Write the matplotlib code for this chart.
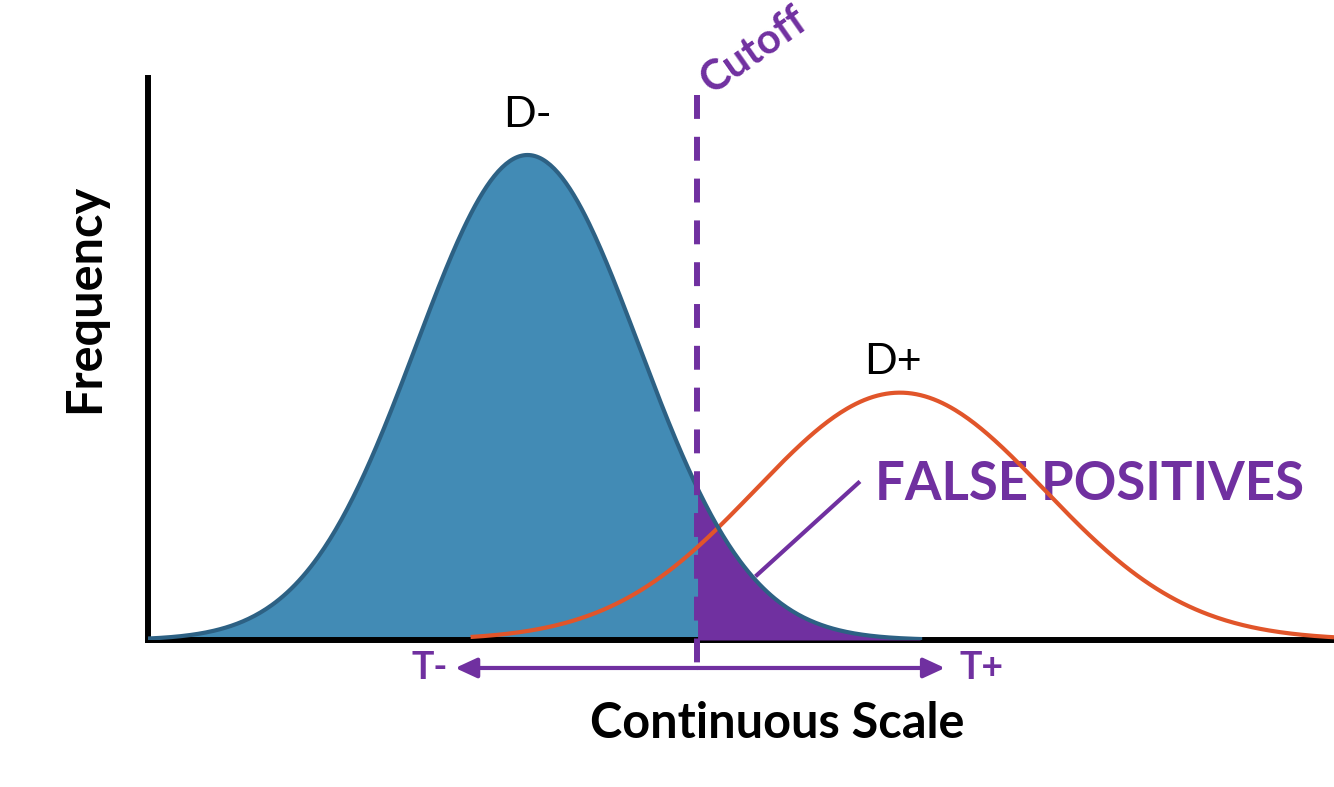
import numpy as np
import matplotlib
matplotlib.use("Agg")
from matplotlib import pyplot as plt

plt.rcParams["font.family"] = ["Lato", "DejaVu Sans"]

# two populations on the continuous scale (mean, sd, peak height)
groups = ["D-", "D+"]
means = [3.20, 6.34]
sds = [0.94, 1.22]
peaks = [1.00, 0.51]
spans = [(0.0, 6.51), (2.72, 10.0)]
cutoff = 4.63
arrow_ends = [2.59, 6.72]

PURPLE = "#7030A0"
BLUE_FILL = "#428BB5"
BLUE_EDGE = "#2D6184"
ORANGE = "#E1552A"


def curve(i):
    x = np.linspace(*spans[i], 400)
    y = peaks[i] * np.exp(-0.5 * ((x - means[i]) / sds[i]) ** 2)
    return x, y


fig = plt.figure(figsize=(13.34, 7.87), dpi=100)
ax = fig.add_axes([148 / 1334, 147 / 787, 1186 / 1334, 562 / 787])
ax.set_xlim(0, 10)
ax.set_ylim(0, 562 / 485)

for side in ("top", "right"):
    ax.spines[side].set_visible(False)
for side in ("left", "bottom"):
    ax.spines[side].set_linewidth(4.3)
    ax.spines[side].set_color("black")
ax.set_xticks([])
ax.set_yticks([])

# D- population
xn, yn = curve(0)
ax.fill_between(xn, yn, color=BLUE_FILL, lw=0, zorder=2)
ax.fill_between(xn, yn, where=xn >= cutoff, color=PURPLE, lw=0, zorder=3)

# D+ population
xp, yp = curve(1)
ax.plot(xp, yp, color=ORANGE, lw=3, zorder=4, solid_capstyle="butt")
ax.plot(xn, yn, color=BLUE_EDGE, lw=3, zorder=5)

# cutoff line
ax.plot([cutoff, cutoff], [1.124, -0.070], color=PURPLE, lw=4.3,
        dashes=(4, 3), dash_capstyle="butt", zorder=6, clip_on=False)
ax.text(cutoff + 0.15, 1.112, "Cutoff", rotation=35, color=PURPLE,
        fontsize=30, fontweight="bold", ha="left", va="bottom",
        rotation_mode="anchor")

# T- / T+ arrows
ya = -0.0577
for end in arrow_ends:
    ax.annotate("", xy=(end, ya), xytext=(cutoff, ya),
                arrowprops=dict(arrowstyle="-|>,head_length=1.3,head_width=0.6",
                                color=PURPLE, lw=3, shrinkA=0, shrinkB=0),
                annotation_clip=False)
ax.text(arrow_ends[0] - 0.06, ya, "T-", color=PURPLE, fontsize=27,
        fontweight="bold", ha="right", va="center")
ax.text(arrow_ends[1] + 0.12, ya, "T+", color=PURPLE, fontsize=27,
        fontweight="bold", ha="left", va="center")

# group labels
ax.text(means[0], 1.083, groups[0], fontsize=31, ha="center", va="center")
ax.text(6.28, 0.573, groups[1], fontsize=31, ha="center", va="center")

# false positive callout
ax.plot([5.135, 5.99], [0.134, 0.324], color=PURPLE, lw=3, zorder=6)
ax.text(6.13, 0.320, "FALSE POSITIVES", color=PURPLE, fontsize=38,
        fontweight="bold", ha="left", va="center")

fig.text(777 / 1334, 1 - 723 / 787, "Continuous Scale", fontsize=35,
         fontweight="bold", ha="center", va="center")
fig.text(85 / 1334, 1 - 298 / 787, "Frequency", fontsize=35,
         fontweight="bold", ha="center", va="center", rotation=90)

fig.savefig("out.png", dpi=100)
